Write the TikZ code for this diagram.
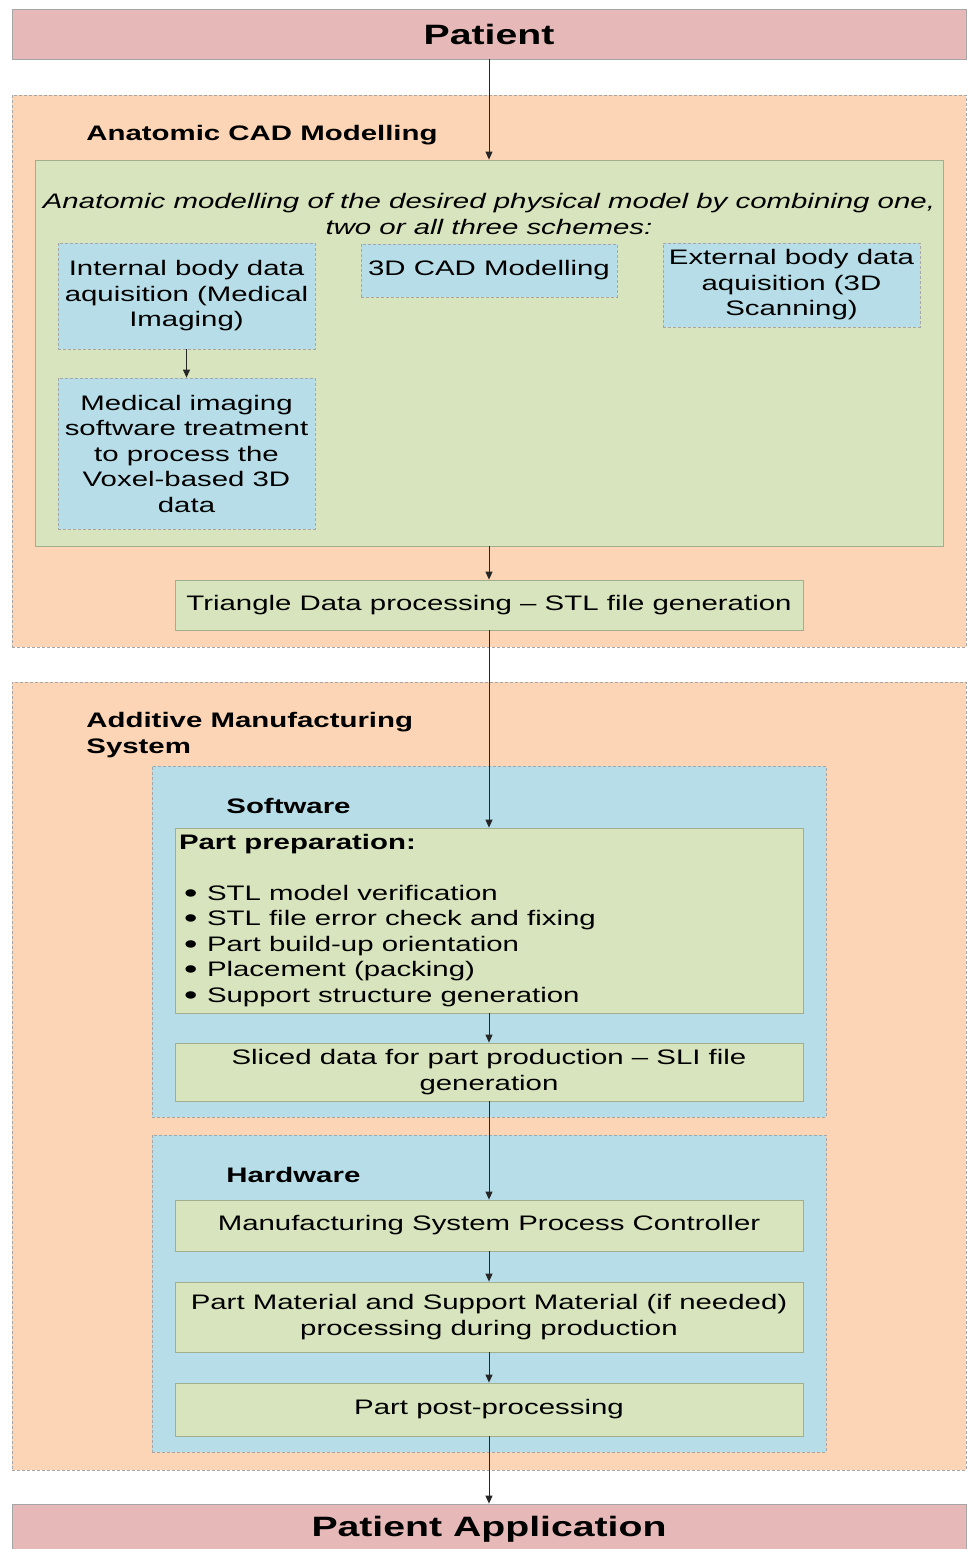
\documentclass[tikz,border=0pt]{standalone}
\usepackage{fontspec}
\setmainfont[FakeStretch=1.4]{Liberation Sans}
\usetikzlibrary{arrows.meta}

\definecolor{barpink}{HTML}{E6B9B8}
\definecolor{peach}{HTML}{FBD5B5}
\definecolor{leaf}{HTML}{D7E4BD}
\definecolor{sky}{HTML}{B7DEE8}
\definecolor{edgegray}{HTML}{A6A6A6}
\definecolor{leafedge}{HTML}{A3AE8E}

\newcommand{\pitem}[1]{\\\hspace*{2.5pt}\makebox[11.5pt][l]{\raisebox{-0.9pt}{\scalebox{1.3}{\textbullet}}}#1}

\tikzset{
    every node/.style={font=\fontsize{10.5}{12.75}\selectfont, align=center},
    bar/.style={draw=edgegray, fill=barpink, minimum width=477pt, minimum height=25pt,
        font=\fontsize{14}{16}\selectfont\bfseries},
    regionbox/.style={draw=edgegray, fill=peach, dash pattern=on 1.5pt off 1pt,
        minimum width=477pt},
    groupbox/.style={draw=edgegray, fill=sky, dash pattern=on 1.5pt off 1pt,
        minimum width=337pt},
    greenbox/.style={draw=leafedge, fill=leaf, inner xsep=1pt, inner ysep=0pt},
    bluebox/.style={draw=edgegray, fill=sky, dash pattern=on 1.5pt off 1pt,
        minimum width=128.5pt, inner xsep=1pt, inner ysep=0pt},
    heading/.style={anchor=west, inner sep=0pt, align=left,
        font=\fontsize{10.5}{12.75}\selectfont\bfseries},
    flow/.style={-{Triangle[length=4pt,width=3.5pt]}, line width=0.5pt, draw=black!85}
}

\begin{document}
\begin{tikzpicture}[x=0.5pt, y=-0.5pt]
    \useasboundingbox (0,0) rectangle (968,1549);
    \fill[white] (0,0) rectangle (968,1549);

    \node[bar] (patient) at (489,34) {Patient};

    \node[regionbox, minimum height=276pt] (cad) at (489,371) {};
    \node[heading] (cadtitle) at (86,135) {Anatomic CAD Modelling};
    \node[greenbox, minimum width=454pt, minimum height=193pt] (model) at (489,353) {};
    \node[inner sep=0pt, font=\fontsize{10.5}{12.75}\selectfont\itshape] (intro) at (489,214)
        {Anatomic modelling of the desired physical model by combining one,\\two or all three schemes:};
    \node[bluebox, minimum height=53pt] (internal) at (186.5,296)
        {Internal body data\\aquisition (Medical\\Imaging)};
    \node[bluebox, minimum width=128pt, minimum height=26.5pt] (cadthree) at (489,270.5)
        {3D CAD Modelling};
    \node[bluebox, minimum height=42pt] (external) at (791.5,285)
        {External body data\\aquisition (3D\\Scanning)};
    \node[bluebox, minimum height=75.5pt] (voxel) at (186.5,453.5)
        {Medical imaging\\software treatment\\to process the\\Voxel-based 3D\\data};
    \node[greenbox, minimum width=314pt, minimum height=25pt] (stl) at (489,605)
        {Triangle Data processing -- STL file generation};

    \node[regionbox, minimum height=394pt] (am) at (489,1076) {};
    \node[heading] (amtitle) at (86,735) {Additive Manufacturing\\System};

    \node[groupbox, minimum height=175.5pt] (software) at (489,941.5) {};
    \node[heading] (swtitle) at (226,806) {Software};
    \node[greenbox, minimum width=314pt, minimum height=92.5pt, align=left,
        inner xsep=2pt] (prep) at (489,920.5)
        {\makebox[310pt][l]{\textbf{Part preparation:}}\\
         \pitem{STL model verification}
         \pitem{STL file error check and fixing}
         \pitem{Part build-up orientation}
         \pitem{Placement (packing)}
         \pitem{Support structure generation}};
    \node[greenbox, minimum width=314pt, minimum height=29pt] (sliced) at (489,1072)
        {Sliced data for part production -- SLI file\\generation};

    \node[groupbox, minimum height=158.5pt] (hardware) at (489,1293.5) {};
    \node[heading] (hwtitle) at (226,1175) {Hardware};
    \node[greenbox, minimum width=314pt, minimum height=25.5pt] (mspc) at (489,1225.5)
        {Manufacturing System Process Controller};
    \node[greenbox, minimum width=314pt, minimum height=35pt] (material) at (489,1317)
        {Part Material and Support Material (if needed)\\processing during production};
    \node[greenbox, minimum width=314pt, minimum height=26.5pt] (post) at (489,1409.5)
        {Part post-processing};

    \node[bar] (patientapp) at (489,1529) {Patient Application};

    \draw[flow] (patient) -- (model);
    \draw[flow] (internal) -- (voxel);
    \draw[flow] (model) -- (stl);
    \draw[flow] (stl) -- (prep);
    \draw[flow] (prep) -- (sliced);
    \draw[flow] (sliced) -- (mspc);
    \draw[flow] (mspc) -- (material);
    \draw[flow] (material) -- (post);
    \draw[flow] (post) -- (patientapp);
\end{tikzpicture}
\end{document}
